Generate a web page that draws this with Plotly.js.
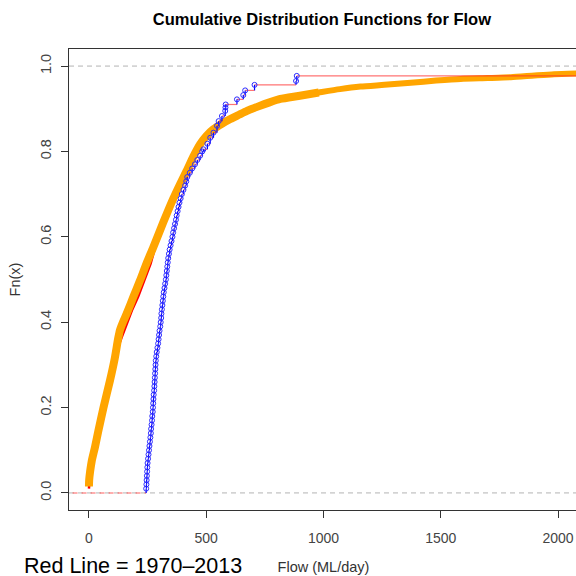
<!DOCTYPE html>
<html>
<head>
<meta charset="utf-8">
<script src="https://cdn.plot.ly/plotly-3.0.1.min.js"></script>
<style>
html,body{margin:0;padding:0;overflow:hidden;background:#fff;}
#chart{width:580px;height:576px;}
</style>
</head>
<body>
<div id="chart"></div>
<script>
// ---- Data ----
// Orange ECDF (dense points, drawn as a thick band): body and sparser tail
const orangeX = [0, 1, 5, 12, 26, 40, 62, 90, 110, 124, 132, 145, 161, 190, 218, 245, 274, 303, 332, 360, 389, 417, 445, 474, 500, 531, 567, 603, 640, 674, 720, 770, 816, 893, 980];
const orangeY = [0.015, 0.03, 0.05, 0.075, 0.108, 0.145, 0.20, 0.264, 0.315, 0.36, 0.381, 0.40, 0.42, 0.46, 0.498, 0.537, 0.575, 0.615, 0.654, 0.69, 0.724, 0.755, 0.788, 0.817, 0.836, 0.852, 0.865, 0.876, 0.886, 0.895, 0.905, 0.915, 0.923, 0.93, 0.938];
const orangeTailX = [893, 980, 1070, 1158, 1260, 1372, 1480, 1585, 1700, 1799, 1900, 1983, 2100];
const orangeTailY = [0.93, 0.938, 0.946, 0.952, 0.956, 0.961, 0.966, 0.970, 0.972, 0.974, 0.978, 0.981, 0.983];

// Red ECDF (1970–2013), mostly hidden beneath the orange band
const redX = [0, 1, 5, 12, 26, 40, 62, 90, 112, 130, 140, 160, 185, 210, 237, 263, 282, 305, 334, 362, 389, 417, 445, 474, 500, 531, 567, 603, 640, 674, 720, 770, 816, 893, 980, 1070, 1158, 1260, 1372, 1480, 1585, 1700, 1799, 1900, 1983, 2100];
const redY = [0.01, 0.028, 0.048, 0.072, 0.105, 0.142, 0.197, 0.262, 0.31, 0.35, 0.365, 0.395, 0.43, 0.46, 0.498, 0.537, 0.575, 0.615, 0.654, 0.69, 0.724, 0.755, 0.788, 0.817, 0.836, 0.852, 0.865, 0.876, 0.886, 0.895, 0.905, 0.915, 0.923, 0.93, 0.938, 0.946, 0.952, 0.956, 0.961, 0.966, 0.970, 0.972, 0.974, 0.978, 0.981, 0.983];

// Blue ECDF (points)
const blueX = [244, 245, 246, 247, 248, 249, 250, 252, 254, 256, 258, 260, 262, 264, 265, 267, 269, 270, 272, 273, 274, 275, 276, 278, 279, 280, 281, 282, 283, 284, 285, 287, 289, 292, 295, 297, 299, 301, 304, 306, 308, 309, 311, 313, 315, 317, 319, 322, 325, 328, 330, 332, 334, 336, 338, 341, 344, 348, 352, 356, 359, 363, 367, 371, 374, 378, 382, 386, 391, 396, 403, 410, 415, 419, 430, 440, 452, 462, 474, 483, 488, 505, 517, 531, 546, 553, 567, 581, 582, 583, 631, 658, 666, 706, 883, 886];
const blueY = [0.01, 0.02, 0.03, 0.04, 0.05, 0.06, 0.07, 0.08, 0.09, 0.10, 0.11, 0.12, 0.13, 0.14, 0.15, 0.16, 0.17, 0.18, 0.19, 0.20, 0.21, 0.22, 0.23, 0.24, 0.25, 0.26, 0.27, 0.28, 0.29, 0.30, 0.31, 0.32, 0.33, 0.34, 0.35, 0.36, 0.37, 0.38, 0.39, 0.40, 0.41, 0.42, 0.43, 0.44, 0.45, 0.46, 0.47, 0.48, 0.49, 0.50, 0.51, 0.52, 0.53, 0.54, 0.55, 0.56, 0.57, 0.58, 0.59, 0.60, 0.61, 0.62, 0.63, 0.64, 0.65, 0.66, 0.67, 0.68, 0.69, 0.70, 0.71, 0.72, 0.73, 0.74, 0.75, 0.76, 0.77, 0.78, 0.79, 0.80, 0.805, 0.818, 0.832, 0.844, 0.860, 0.871, 0.883, 0.895, 0.903, 0.910, 0.922, 0.932, 0.943, 0.956, 0.965, 0.977];

const xTicks = [0, 500, 1000, 1500, 2000];
const yTicks = [0, 0.2, 0.4, 0.6, 0.8, 1.0];
const refLines = [0, 1];
const xRange = [-85, 2085];
const yRange = [-0.04, 1.04];

// ---- Build step segments for blue ECDF ----
const horX = [], horY = [], verX = [], verY = [];
for (let i = 0; i < blueX.length - 1; i++) {
  horX.push(blueX[i], blueX[i + 1], null);
  horY.push(blueY[i], blueY[i], null);
  verX.push(blueX[i + 1], blueX[i + 1], null);
  verY.push(blueY[i], blueY[i + 1], null);
}
horX.push(blueX[blueX.length - 1], xRange[1] + 100, null);
horY.push(blueY[blueY.length - 1], blueY[blueY.length - 1], null);
verX.push(blueX[0], blueX[0], null);
verY.push(0, blueY[0], null);

const traces = [
  { x: redX, y: redY, type: 'scatter', mode: 'lines', line: { color: '#ff0000', width: 2.5 }, hoverinfo: 'skip', showlegend: false },
  { x: orangeTailX, y: orangeTailY, type: 'scatter', mode: 'lines', line: { color: '#ffa500', width: 6, shape: 'spline', smoothing: 0.6 }, hoverinfo: 'skip', showlegend: false },
  { x: orangeX, y: orangeY, type: 'scatter', mode: 'lines', line: { color: '#ffa500', width: 8, shape: 'spline', smoothing: 0.6 }, hoverinfo: 'skip', showlegend: false },
  { x: [xRange[0] - 100, blueX[0]], y: [0, 0], type: 'scatter', mode: 'lines', line: { color: 'rgba(255,60,60,0.55)', width: 1.5, dash: '5px,4px' }, hoverinfo: 'skip', showlegend: false },
  { x: horX, y: horY, type: 'scatter', mode: 'lines', line: { color: 'rgba(255,40,40,0.65)', width: 1.2 }, hoverinfo: 'skip', showlegend: false },
  { x: verX, y: verY, type: 'scatter', mode: 'lines', line: { color: '#0000ff', width: 1.2 }, hoverinfo: 'skip', showlegend: false },
  { x: blueX, y: blueY, type: 'scatter', mode: 'markers', marker: { symbol: 'circle-open', size: 5, color: '#2b2bff', line: { width: 1 } }, hoverinfo: 'skip', showlegend: false }
];

const layout = {
  width: 580, height: 576,
  margin: { l: 69, r: 2, t: 49, b: 66 },
  paper_bgcolor: '#ffffff', plot_bgcolor: '#ffffff',
  font: { family: 'Liberation Sans, Arial, sans-serif', color: '#333' },
  title: { text: 'Cumulative Distribution Functions for Flow', font: { family: 'Liberation Sans, Arial, sans-serif', size: 16.5, color: '#000', weight: 'bold' }, xref: 'container', x: 0.555, xanchor: 'center', yref: 'container', y: 0.967, yanchor: 'middle' },
  xaxis: {
    range: xRange, tickvals: xTicks, ticktext: xTicks.map(String),
    ticks: 'outside', ticklen: 7, tickcolor: '#333', tickwidth: 1,
    showline: true, linecolor: '#333', linewidth: 1, mirror: true,
    showgrid: false, zeroline: false,
    tickfont: { size: 14, color: '#444' }, ticklabelstandoff: 8,
    title: { text: 'Flow (ML/day)', font: { size: 14.5, color: '#333' }, standoff: 17 },
    automargin: false
  },
  yaxis: {
    range: yRange, tickvals: yTicks, tickformat: '.1f', tickangle: -90,
    ticks: 'outside', ticklen: 7, tickcolor: '#333', tickwidth: 1,
    showline: true, linecolor: '#333', linewidth: 1, mirror: true,
    showgrid: false, zeroline: false,
    tickfont: { size: 14.5, color: '#444' }, ticklabelstandoff: 4,
    title: { text: 'Fn(x)', font: { size: 14.5, color: '#333' }, standoff: 14 },
    automargin: false
  },
  shapes: refLines.map(v => ({ type: 'line', xref: 'paper', x0: 0, x1: 1, yref: 'y', y0: v, y1: v, line: { color: '#b3b3b3', width: 1, dash: '5px,4px' }, layer: 'below' })),
  annotations: [
    { text: 'Red Line = 1970\u20132013', xref: 'paper', yref: 'paper', x: -0.093, y: -0.121, xanchor: 'left', yanchor: 'middle', showarrow: false, font: { size: 21.5, color: '#000' } }
  ]
};

Plotly.newPlot('chart', traces, layout, { staticPlot: true, displayModeBar: false });
</script>
</body>
</html>
